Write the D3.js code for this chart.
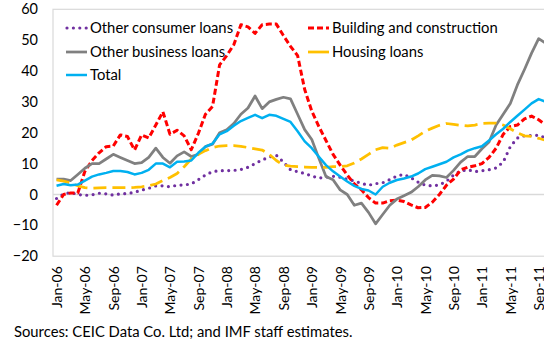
<!DOCTYPE html>
<html>
<head>
<meta charset="utf-8">
<script src="https://cdn.jsdelivr.net/npm/d3@7"></script>
<style>
  html, body { margin: 0; padding: 0; background: #fff; }
  svg { display: block; font-family: Lato, "Noto Sans", sans-serif; }
</style>
</head>
<body>
<svg id="chart" width="544" height="343"></svg>
<script>
// Monthly categories, Jan-06 through Oct-11
const monthNames = ["Jan","Feb","Mar","Apr","May","Jun","Jul","Aug","Sep","Oct","Nov","Dec"];
const months = [];
for (let y = 6; y <= 11; y++) {
  for (let m = 0; m < 12; m++) {
    if (y === 11 && m > 9) break;
    months.push(monthNames[m] + "-" + String(y).padStart(2, "0"));
  }
}
// Labelled months on the category axis
const tickLabels = ["Jan-06","May-06","Sep-06","Jan-07","May-07","Sep-07","Jan-08","May-08","Sep-08",
  "Jan-09","May-09","Sep-09","Jan-10","May-10","Sep-10","Jan-11","May-11","Sep-11"];
const yTicks = [-20, -10, 0, 10, 20, 30, 40, 50, 60];

// Growth rates, percent
const otherConsumer = [-1.3,0.2,0.6,0,-0.3,-0.1,0.4,0.2,-0.2,0.2,0.3,0.7,
  1.4,2,2.8,2.8,2.5,3,3.1,3.4,4.8,6.3,7.4,7.7,
  7.7,7.8,8.1,8.8,10,11.2,12.1,12.7,10.5,8,7.4,6.8,
  6,5.3,5.6,5.9,5.6,4.9,4.4,3.6,3,3.5,3.8,4.8,
  6,6.5,5.4,4,3,2.8,3.1,4.3,6.3,7.6,8,7.4,
  7.7,8,8.6,10.5,15.5,18.3,19,19.1,19.2,18.3];
const building = [-3.5,0,0.5,0.5,7.5,11,13.5,15.5,15.7,19.3,18.8,14.4,
  19.3,18.3,22.5,26.8,19.5,20.8,19,14.5,19.8,26,28.5,42,
  45,48.5,55,54.3,52.2,55,55.2,55.2,51.5,48,45,34,
  27,22,17.5,13,9.5,6.3,3.4,1.5,-1,-2.8,-2.8,-2,
  -1.8,-2.3,-3.4,-4.3,-4.2,-2.5,0,3,5,8,8.8,9.3,
  10,12,15,19.5,22,22.5,24.5,25.4,24.2,22.5];
const otherBusiness = [5,5,4.5,6.5,8.5,10,10,11.5,13,12,11,10,
  10.3,12,15,12,10.1,12.5,13.8,12.3,13,15.5,16.3,20,
  21,23,26,28,31.9,27.8,30,30.8,31.5,31,26,21,
  17.8,11.7,5.8,4.8,1.5,0,-3.5,-2.8,-5.8,-9.5,-6.5,-3.5,
  -1.5,-0.4,0.7,2.5,4.7,6.2,6,5.5,7.8,10.5,12.3,12.3,
  14.8,17,22.5,26,29.5,35.5,40.5,45.8,50.5,49];
const housing = [4.7,4.3,3.7,2.8,2.2,2,2.1,2.2,2.2,2.2,2.2,2.3,
  2.5,2.8,3.4,4.5,5.5,6.8,9,11.5,13,14.2,15.2,15.7,
  15.8,15.8,15.6,15.2,14.8,14.4,13,11,9.5,9.2,9,8.9,
  8.8,8.8,8.8,9,9,9.3,10.2,11.5,13,14.5,15.2,15,
  16,16.8,17.6,19,20.5,21.5,22.4,23,22.7,22.4,22.2,22.5,
  23,23.1,23.1,22.5,21.3,20,19,18.8,18.2,17.5];
const total = [2.8,3.4,3,3.2,4.5,5.8,6.5,7,7.6,7.6,7.3,6.5,
  7,8,10,10,8.8,10.6,10.7,11,13.5,15.5,16.5,19.5,
  20.5,22.3,23.8,24.8,25.8,24.7,25.8,25.5,24.5,23.5,20.5,17.2,
  15,12.2,9.5,7.5,5.8,4.2,2.8,1.8,1.3,0,2.5,3.8,
  4.7,5.2,5.8,6.8,8.2,9,9.8,10.6,12,13,14.2,15,
  15.6,17.5,19.5,21.3,23.5,25.5,27.5,29.5,30.9,30];

const series = [
  { name: "Other consumer loans", values: otherConsumer, color: "#7030a0", width: 3.2, dash: "0,6.4", cap: "round" },
  { name: "Building and construction", values: building, color: "#ff0000", width: 3, dash: "6,3", cap: "butt" },
  { name: "Other business loans", values: otherBusiness, color: "#808080", width: 2.75, dash: null, cap: "butt" },
  { name: "Housing loans", values: housing, color: "#ffc000", width: 2.75, dash: "13,6", cap: "butt" },
  { name: "Total", values: total, color: "#00b0f0", width: 2.5, dash: null, cap: "butt" }
];

const svg = d3.select("#chart");
const plot = { left: 53, top: 9.3, bottom: 256.2, right: 53 + months.length * 7.09 };

const x = d3.scalePoint().domain(months).range([plot.left, plot.right]).padding(0.5);
const y = d3.scaleLinear().domain([-20, 60]).range([plot.bottom, plot.top]);

// Plot area frame
svg.append("rect")
  .attr("x", plot.left).attr("y", plot.top)
  .attr("width", plot.right - plot.left).attr("height", plot.bottom - plot.top)
  .attr("fill", "none").attr("stroke", "#d9d9d9").attr("stroke-width", 1.2);

// Zero line
svg.append("line")
  .attr("x1", plot.left).attr("x2", plot.right)
  .attr("y1", y(0)).attr("y2", y(0))
  .attr("stroke", "#d9d9d9").attr("stroke-width", 1.5);

// Y axis labels
const yAxis = d3.axisLeft(y).tickValues(yTicks).tickSize(0).tickPadding(15);
const gy = svg.append("g").attr("transform", `translate(${plot.left},0)`).call(yAxis);
gy.select(".domain").remove();
gy.selectAll("text").attr("font-size", 14.5).attr("fill", "#000").attr("font-family", "Lato, sans-serif");

// X axis labels (rotated)
const xAxis = d3.axisBottom(x).tickValues(tickLabels).tickSize(0).tickPadding(0);
const gx = svg.append("g").attr("transform", `translate(0,${plot.bottom})`).call(xAxis);
gx.select(".domain").remove();
gx.selectAll("text")
  .attr("font-size", 14).attr("fill", "#000").attr("font-family", "Lato, sans-serif")
  .attr("transform", "rotate(-90)")
  .attr("text-anchor", "end")
  .attr("x", -10).attr("y", 0).attr("dy", "0.35em");

// Series lines
const line = d3.line().x((d, i) => x(months[i])).y(d => y(d));
series.forEach(s => {
  svg.append("path")
    .datum(s.values)
    .attr("d", line)
    .attr("fill", "none")
    .attr("stroke", s.color)
    .attr("stroke-width", s.width)
    .attr("stroke-linejoin", "round")
    .attr("stroke-linecap", s.cap)
    .attr("stroke-dasharray", s.dash);
});

// Legend
const legendItems = [
  { s: series[0], x: 66, y: 28 },
  { s: series[2], x: 66, y: 52 },
  { s: series[4], x: 66, y: 75 },
  { s: series[1], x: 308, y: 28 },
  { s: series[3], x: 308, y: 52 }
];
legendItems.forEach(item => {
  const g = svg.append("g");
  g.append("line")
    .attr("x1", item.x + (item.s.cap === "round" ? 1 : 0)).attr("x2", item.x + 21)
    .attr("y1", item.y).attr("y2", item.y)
    .attr("stroke", item.s.color)
    .attr("stroke-width", item.s.width)
    .attr("stroke-linecap", item.s.cap)
    .attr("stroke-dasharray", item.s.name === "Housing loans" ? null : item.s.dash);
  g.append("text")
    .attr("x", item.x + 24).attr("y", item.y).attr("dy", "0.35em")
    .attr("font-size", 14.8).attr("fill", "#000")
    .text(item.s.name);
});

// Source note
svg.append("text")
  .attr("x", 14).attr("y", 332).attr("dy", "0.35em")
  .attr("font-size", 14.8).attr("fill", "#000")
  .text("Sources: CEIC Data Co. Ltd; and IMF staff estimates.");
</script>
</body>
</html>
